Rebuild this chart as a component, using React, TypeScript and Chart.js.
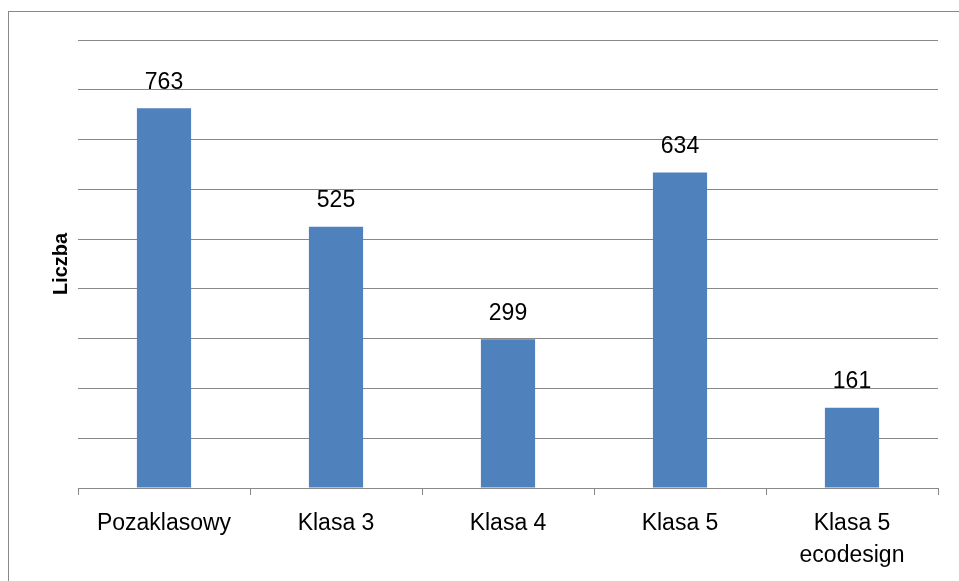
import React, { useEffect, useRef } from "react";
import { Chart, registerables } from "chart.js";

Chart.register(...registerables);

const categories: (string | string[])[] = ["Pozaklasowy", "Klasa 3", "Klasa 4", "Klasa 5", ["Klasa 5", "ecodesign"]];
const values: number[] = [763, 525, 299, 634, 161];
const yAxisTitle = "Liczba";
const yMax = 900;
const yStep = 100;

const FONT = "'Liberation Sans', Arial, sans-serif";

const dataLabelPlugin = {
  id: "dataLabels",
  afterDatasetsDraw(chart: any) {
    const ctx = chart.ctx;
    const meta = chart.getDatasetMeta(0);
    ctx.save();
    ctx.fillStyle = "#000000";
    ctx.font = `23px ${FONT}`;
    ctx.textAlign = "center";
    ctx.textBaseline = "middle";
    meta.data.forEach((bar: any, i: number) => {
      ctx.fillText(String(values[i]), bar.x, bar.y - 26);
    });
    ctx.restore();
  },
};

export default function App() {
  const ref = useRef<HTMLCanvasElement>(null);
  useEffect(() => {
    if (!ref.current) return;
    const chart = new Chart(ref.current, {
      type: "bar",
      data: {
        labels: categories,
        datasets: [
          {
            data: values,
            backgroundColor: "#4F81BD",
            borderWidth: 0,
            barPercentage: 0.315,
            categoryPercentage: 1,
          },
        ],
      },
      options: {
        animation: false,
        responsive: false,
        maintainAspectRatio: false,
        layout: { padding: { top: 28, right: 21, left: 0, bottom: 0 } },
        plugins: {
          legend: { display: false },
          tooltip: { enabled: false },
        },
        scales: {
          x: {
            grid: {
              display: true,
              drawOnChartArea: false,
              drawTicks: true,
              tickLength: 7,
              color: "#888888",
              lineWidth: 1,
              offset: true,
            },
            border: { display: true, color: "#888888", width: 1 },
            ticks: {
              color: "#000000",
              font: { family: FONT, size: 23, lineHeight: 1.39 },
              padding: 13,
              maxRotation: 0,
              autoSkip: false,
            },
            afterFit: (scale: any) => {
              scale.height = 93;
            },
          },
          y: {
            min: 0,
            max: yMax,
            ticks: { display: false, stepSize: yStep },
            grid: {
              color: "#888888",
              lineWidth: 1,
              drawTicks: false,
              tickLength: 0,
            },
            border: { display: false },
            title: {
              display: true,
              text: yAxisTitle,
              color: "#000000",
              font: { family: FONT, size: 20, weight: "bold", lineHeight: 1.2 },
              padding: { top: 40, bottom: 0 },
            },
            afterFit: (scale: any) => {
              scale.width = 69;
            },
          },
        },
      },
      plugins: [dataLabelPlugin],
    });
    return () => chart.destroy();
  }, []);

  return (
    <div
      style={{
        position: "absolute",
        left: 8,
        top: 11,
        width: 951,
        height: 570,
        boxSizing: "border-box",
        borderLeft: "1px solid #888888",
        borderTop: "1px solid #888888",
        background: "#ffffff",
      }}
    >
      <canvas ref={ref} width={950} height={569} style={{ display: "block", width: 950, height: 569 }} />
    </div>
  );
}
